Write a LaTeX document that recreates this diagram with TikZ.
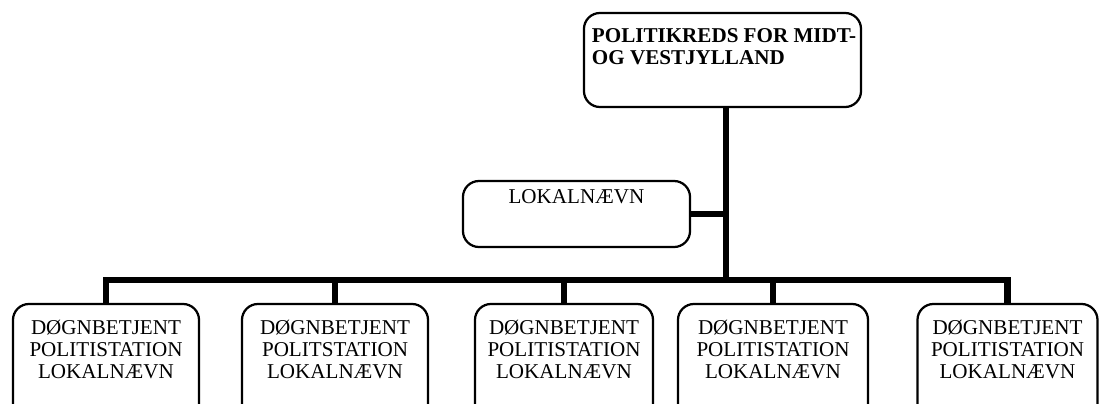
\documentclass[tikz,border=0pt]{standalone}
\usepackage{fontspec}
\setmainfont{Liberation Serif}
\usepackage{tikz}

\tikzset{
  enhed/.style={draw, line width=1.6pt, rounded corners=0.4cm, inner xsep=0.2cm, inner ysep=0pt},
  forbindelse/.style={line width=4.5pt, line join=miter}
}

\begin{document}
\begin{tikzpicture}[x=0.025cm,y=-0.025cm]
\fontsize{15}{15.6}\selectfont
\clip (0,0) rectangle (1101,403);
  % politikredsen
  \node[enhed, inner xsep=0.1cm] (kreds) at (722.5,60) {\parbox[c][2.35cm][t]{6.725cm}{\vspace*{0.4cm}\raggedright\bfseries\hspace*{0.1cm}POLITIKREDS FOR MIDT-\\\hspace*{0.1cm}OG VESTJYLLAND}};
  % lokalnaevnet
  \node[enhed] (lokal) at (576.5,214) {\parbox[c][1.65cm][t]{5.275cm}{\vspace*{0.225cm}\centering LOKALNÆVN}};
  % doegnbetjente politistationer
  \node[enhed] (st1) at (106,367) {\parbox[c][3.15cm][t]{4.25cm}{\vspace*{0.4cm}\centering DØGNBETJENT\\POLITISTATION\\LOKALNÆVN}};
  \node[enhed] (st2) at (335,367) {\parbox[c][3.15cm][t]{4.25cm}{\vspace*{0.4cm}\centering DØGNBETJENT\\POLITSTATION\\LOKALNÆVN}};
  \node[enhed] (st3) at (564,367) {\parbox[c][3.15cm][t]{4.05cm}{\vspace*{0.4cm}\centering DØGNBETJENT\\POLITISTATION\\LOKALNÆVN}};
  \node[enhed] (st4) at (773,367) {\parbox[c][3.15cm][t]{4.35cm}{\vspace*{0.4cm}\centering DØGNBETJENT\\POLITISTATION\\LOKALNÆVN}};
  \node[enhed] (st5) at (1007.5,367) {\parbox[c][3.15cm][t]{4.1cm}{\vspace*{0.4cm}\centering DØGNBETJENT\\POLITISTATION\\LOKALNÆVN}};
  \coordinate (skinne) at (726,280);
  % linjer
  \draw[forbindelse] (skinne |- kreds.south) -- (skinne);
  \draw[forbindelse] (lokal.east) -- (lokal.east -| skinne);
  \draw[forbindelse] (st1.north) -- (st1.north |- skinne) -- (st5.north |- skinne) -- (st5.north);
  \draw[forbindelse] (st2.north) -- (st2.north |- skinne);
  \draw[forbindelse] (st3.north) -- (st3.north |- skinne);
  \draw[forbindelse] (st4.north) -- (st4.north |- skinne);
\end{tikzpicture}
\end{document}
